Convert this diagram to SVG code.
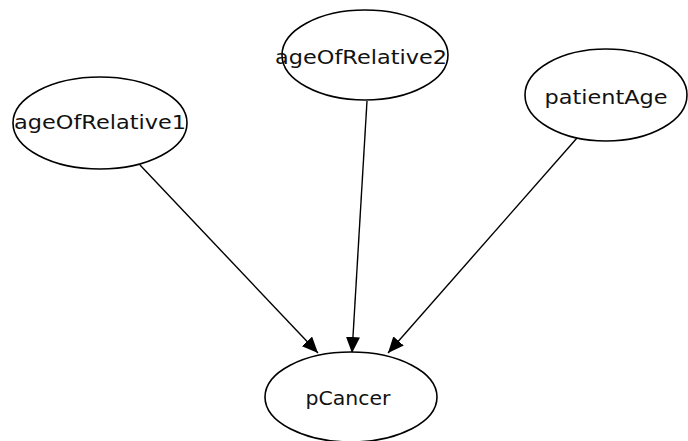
<svg xmlns="http://www.w3.org/2000/svg" width="688" height="441" viewBox="0 0 688 441">
  <style>
    .node ellipse { fill: #ffffff; stroke: #000000; stroke-width: 1.6; }
    .node text { font-family: "DejaVu Sans", "Liberation Sans", sans-serif; font-size: 19px; fill: #111111; text-anchor: middle; }
    .edge { stroke: #000000; stroke-width: 1.4; fill: none; marker-end: url(#arrow); }
  </style>
  <defs>
    <marker id="arrow" viewBox="0 0 16 14" refX="16" refY="7" markerWidth="16" markerHeight="14" markerUnits="userSpaceOnUse" orient="auto">
      <path d="M0,0 L16,7 L0,14 Z" fill="#000000"/>
    </marker>
  </defs>
  <rect width="688" height="441" fill="#ffffff"/>

  <g id="edges">
    <line class="edge" x1="140" y1="165" x2="318" y2="353"/>
    <line class="edge" x1="367" y1="101" x2="352" y2="353"/>
    <line class="edge" x1="577" y1="138" x2="388" y2="353"/>
  </g>

  <g id="ageOfRelative1" class="node">
    <ellipse cx="100" cy="123" rx="87" ry="46"/>
    <text x="100" y="129" textLength="172" lengthAdjust="spacingAndGlyphs">ageOfRelative1</text>
  </g>
  <g id="ageOfRelative2" class="node">
    <ellipse cx="365" cy="55" rx="83" ry="45"/>
    <text x="361" y="64" textLength="172" lengthAdjust="spacingAndGlyphs">ageOfRelative2</text>
  </g>
  <g id="patientAge" class="node">
    <ellipse cx="606" cy="95" rx="81" ry="46"/>
    <text x="606" y="104" textLength="123" lengthAdjust="spacingAndGlyphs">patientAge</text>
  </g>
  <g id="pCancer" class="node">
    <ellipse cx="351" cy="397" rx="86" ry="45"/>
    <text x="348" y="405" textLength="85" lengthAdjust="spacingAndGlyphs">pCancer</text>
  </g>
</svg>
